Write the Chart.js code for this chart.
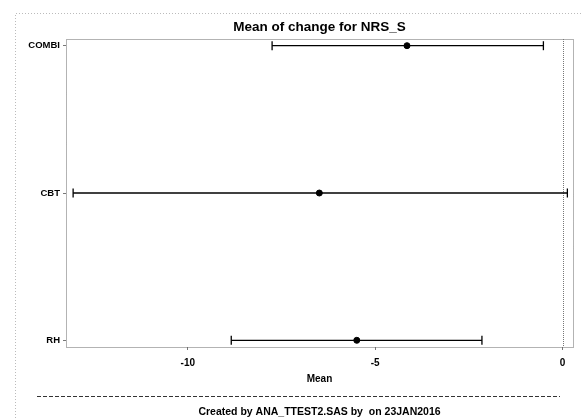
<!DOCTYPE html>
<html><head><meta charset="utf-8">
<script src="https://cdn.jsdelivr.net/npm/chart.js@4"></script>
<style>html,body{margin:0;padding:0;background:#fff}#wrap{width:582px;height:419px}</style>
</head><body><div id="wrap"><canvas id="c" width="582" height="419"></canvas></div>
<script>
const categories = ['COMBI', 'CBT', 'RH'];
const means = [-4.15, -6.49, -5.49];
const lowers = [-7.75, -13.06, -8.84];
const uppers = [-0.51, 0.13, -2.15];
const xTicks = [-10, -5, 0];
const refValue = 0;
const chartTitle = 'Mean of change for NRS_S';
const xTitle = 'Mean';
const footerText = 'Created by ANA_TTEST2.SAS by  on 23JAN2016';

const FONT = "'Liberation Sans', Arial, sans-serif";
const n = categories.length;
const yPos = i => n - 1 - i;

const datasets = categories.map((c, i) => ({
  label: c,
  data: [{x: lowers[i], y: yPos(i)}, {x: uppers[i], y: yPos(i)}],
  showLine: true,
  borderColor: '#000',
  borderWidth: 1.3,
  pointStyle: 'line',
  pointRotation: 90,
  pointRadius: 4.5,
  pointBorderWidth: 1.3,
  pointBorderColor: '#000',
  pointHoverRadius: 4.5
}));
datasets.push({
  label: 'Mean',
  data: categories.map((c, i) => ({x: means[i], y: yPos(i)})),
  showLine: false,
  pointStyle: 'circle',
  pointRadius: 3,
  pointBackgroundColor: '#000',
  pointBorderColor: '#000',
  pointBorderWidth: 1
});

const decor = {
  id: 'decor',
  beforeDraw(chart) {
    const ctx = chart.ctx;
    ctx.save();
    ctx.strokeStyle = '#bbb';
    ctx.lineWidth = 1;
    ctx.setLineDash([1, 2]);
    ctx.beginPath();
    ctx.moveTo(15.5, 430); ctx.lineTo(15.5, 13.5); ctx.lineTo(590, 13.5);
    ctx.stroke();
    ctx.restore();
  },
  beforeDatasetsDraw(chart) {
    const {ctx, chartArea: a, scales} = chart;
    ctx.save();
    ctx.strokeStyle = '#666';
    ctx.lineWidth = 1;
    ctx.setLineDash([1, 1]);
    ctx.strokeRect(Math.round(a.left) + 0.5, Math.round(a.top) + 0.5, Math.round(a.right - a.left), Math.round(a.bottom - a.top));
    const rx = Math.round(scales.x.getPixelForValue(refValue)) + 0.5;
    ctx.strokeStyle = '#777';
    ctx.beginPath();
    ctx.moveTo(rx, a.top); ctx.lineTo(rx, a.bottom);
    ctx.stroke();
    ctx.restore();
  },
  afterDraw(chart) {
    const ctx = chart.ctx;
    ctx.save();
    ctx.strokeStyle = '#333';
    ctx.lineWidth = 1;
    ctx.setLineDash([4, 2]);
    ctx.beginPath();
    ctx.moveTo(37, 396.5); ctx.lineTo(560, 396.5);
    ctx.stroke();
    ctx.restore();
  }
};

new Chart(document.getElementById('c'), {
  type: 'scatter',
  data: {datasets},
  plugins: [decor],
  options: {
    responsive: false,
    devicePixelRatio: 1,
    animation: false,
    events: [],
    layout: {padding: {left: 0, right: 9, top: 0, bottom: 0}},
    plugins: {
      legend: {display: false},
      tooltip: {enabled: false},
      title: {
        display: true, text: chartTitle, fullSize: false,
        color: '#000', font: {family: FONT, size: 13.5, weight: 'bold', lineHeight: 1.2},
        padding: {top: 19.4, bottom: 3.4}
      },
      subtitle: {
        display: true, text: footerText, position: 'bottom', fullSize: false,
        color: '#000', font: {family: FONT, size: 10.5, weight: 'bold', lineHeight: 1.2},
        padding: {top: 9.1, bottom: 0.7}
      }
    },
    scales: {
      x: {
        type: 'linear', min: -13.25, max: 0.28,
        afterBuildTicks: s => { s.ticks = xTicks.map(v => ({value: v})); },
        afterFit: s => { s.height = 49.6; },
        grid: {drawOnChartArea: false, drawTicks: true, tickLength: 3, color: '#777'},
        border: {display: false},
        ticks: {color: '#000', font: {family: FONT, size: 10, weight: 'bold'}, padding: 7, maxRotation: 0},
        title: {display: true, text: xTitle, color: '#000', font: {family: FONT, size: 10, weight: 'bold', lineHeight: 1.2}, padding: {top: 4, bottom: 11.2}}
      },
      y: {
        type: 'linear', min: -0.0455, max: n - 1 + 0.0455,
        afterBuildTicks: s => { s.ticks = categories.map((c, i) => ({value: yPos(i)})); },
        afterFit: s => { s.width = 66; },
        grid: {drawOnChartArea: false, drawTicks: true, tickLength: 3, color: '#777'},
        border: {display: false},
        ticks: {color: '#000', font: {family: FONT, size: 9.5, weight: 'bold'}, padding: 3,
          callback: v => categories[n - 1 - v]}
      }
    }
  }
});
</script>
</body></html>
